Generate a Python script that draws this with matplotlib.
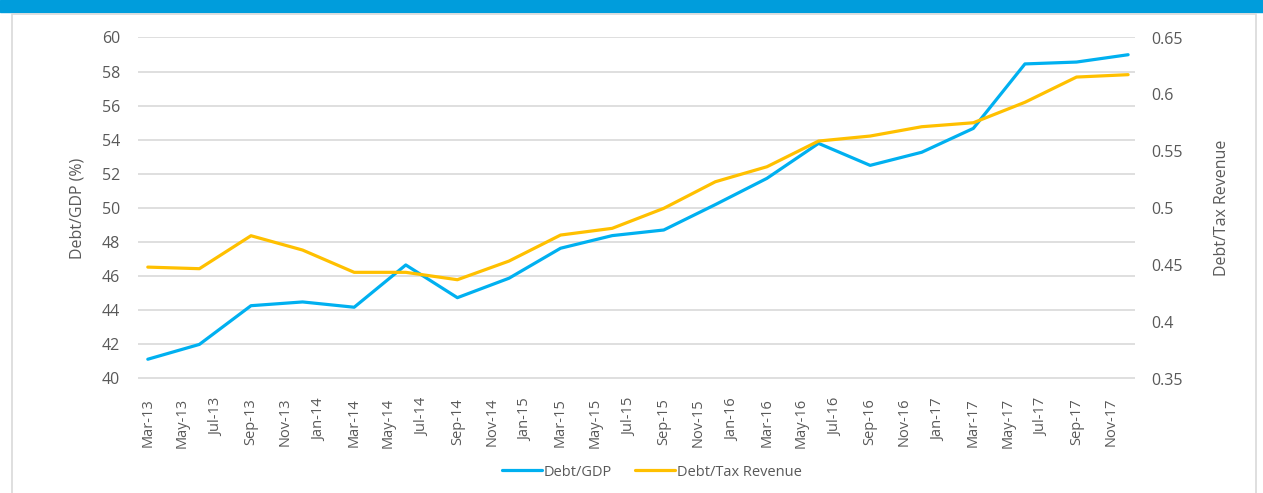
import numpy as np
import matplotlib
matplotlib.use('Agg')
import matplotlib.pyplot as plt
from matplotlib.patches import Rectangle
from datetime import datetime

# ---- data (quarterly)
quarters = ['Mar-13', 'Jun-13', 'Sep-13', 'Dec-13',
            'Mar-14', 'Jun-14', 'Sep-14', 'Dec-14',
            'Mar-15', 'Jun-15', 'Sep-15', 'Dec-15',
            'Mar-16', 'Jun-16', 'Sep-16', 'Dec-16',
            'Mar-17', 'Jun-17', 'Sep-17', 'Dec-17']
debt_gdp = [41.13, 42.0, 44.27, 44.49,
            44.18, 46.66, 44.74, 45.88,
            47.64, 48.38, 48.71, 50.2,
            51.74, 53.79, 52.5, 53.27,
            54.67, 58.45, 58.56, 58.99]
debt_tax = [0.448, 0.4466, 0.4756, 0.463,
            0.4434, 0.4434, 0.4369, 0.4533,
            0.4762, 0.4821, 0.4997, 0.5231,
            0.5363, 0.5589, 0.5633, 0.5715,
            0.575, 0.593, 0.6152, 0.6173]
tick_labels = ['Mar-13', 'May-13', 'Jul-13', 'Sep-13', 'Nov-13', 'Jan-14', 'Mar-14',
               'May-14', 'Jul-14', 'Sep-14', 'Nov-14', 'Jan-15', 'Mar-15', 'May-15',
               'Jul-15', 'Sep-15', 'Nov-15', 'Jan-16', 'Mar-16', 'May-16', 'Jul-16',
               'Sep-16', 'Nov-16', 'Jan-17', 'Mar-17', 'May-17', 'Jul-17', 'Sep-17',
               'Nov-17']
left_ticks = [40, 42, 44, 46, 48, 50, 52, 54, 56, 58, 60]
right_ticks = [0.35, 0.4, 0.45, 0.5, 0.55, 0.6, 0.65]

BLUE = '#00B0F0'
GOLD = '#FFC000'
GRID = '#D9D9D9'
TXT = '#595959'

def month_index(s):
    """Month offset of 'Mon-YY' from Mar-13 (Excel-like month date axis)"""
    d = datetime.strptime(s, '%b-%y')
    return (d.year - 2013) * 12 + d.month - 3

x = np.array([month_index(q) for q in quarters])
xt = np.array([month_index(t) for t in tick_labels])

plt.rcParams['font.family'] = ['Open Sans', 'DejaVu Sans']

fig = plt.figure(figsize=(12.63, 4.93), dpi=100)

# ---- page decoration: blue banner on top, light grey frame
fig.patches.append(Rectangle((0, 1 - 12/493.), 1, 12/493., transform=fig.transFigure,
                             color='#009DDC', zorder=0))
fig.patches.append(Rectangle((11.5/1263., -0.05), (1256 - 11.5)/1263., 1.05 - 13.5/493.,
                             transform=fig.transFigure, fill=False, ec='#D9D9D9', lw=1.2, zorder=0))

ax = fig.add_axes((138/1263., 114.5/493., (1135-138)/1263., 341/493.))
ax2 = ax.twinx()

ax.plot(x, debt_gdp, color=BLUE, lw=2.3, label='Debt/GDP', solid_capstyle='round', zorder=3)
ax2.plot(x, debt_tax, color=GOLD, lw=2.3, label='Debt/Tax Revenue', solid_capstyle='round', zorder=3)

ax.set_xlim(-0.57, 57.4)
ax.set_ylim(40, 60)
ax2.set_ylim(0.35, 0.65)

ax.set_yticks(left_ticks)
ax.set_yticklabels([f'{v:g}' for v in left_ticks])
ax2.set_yticks(right_ticks)
ax2.set_yticklabels([f'{v:g}' for v in right_ticks])
ax.set_xticks(xt)
ax.set_xticklabels(tick_labels, rotation=90, rotation_mode='anchor', ha='right', va='center')

ax.grid(axis='y', color=GRID, lw=1.2)
ax.set_axisbelow(True)
for a in (ax, ax2):
    for sp in a.spines.values():
        sp.set_visible(False)
    a.tick_params(length=0, colors=TXT, labelsize=11.5)
ax.tick_params(axis='x', labelsize=10.5, pad=14)
ax.tick_params(axis='y', pad=13)
ax2.tick_params(axis='y', pad=12)

ax.set_ylabel('Debt/GDP (%)', color=TXT, fontsize=11.5, labelpad=12)
ax2.set_ylabel('Debt/Tax Revenue', color=TXT, fontsize=11.5, labelpad=22)

h1, l1 = ax.get_legend_handles_labels()
h2, l2 = ax2.get_legend_handles_labels()
fig.legend(h1 + h2, l1 + l2, loc='center', bbox_to_anchor=(652/1263., 1 - 472/493.),
           ncol=2, frameon=False, fontsize=10.5, labelcolor=TXT,
           handlelength=2.7, handletextpad=0.15, columnspacing=1.6)

fig.savefig('out.png', dpi=100)
